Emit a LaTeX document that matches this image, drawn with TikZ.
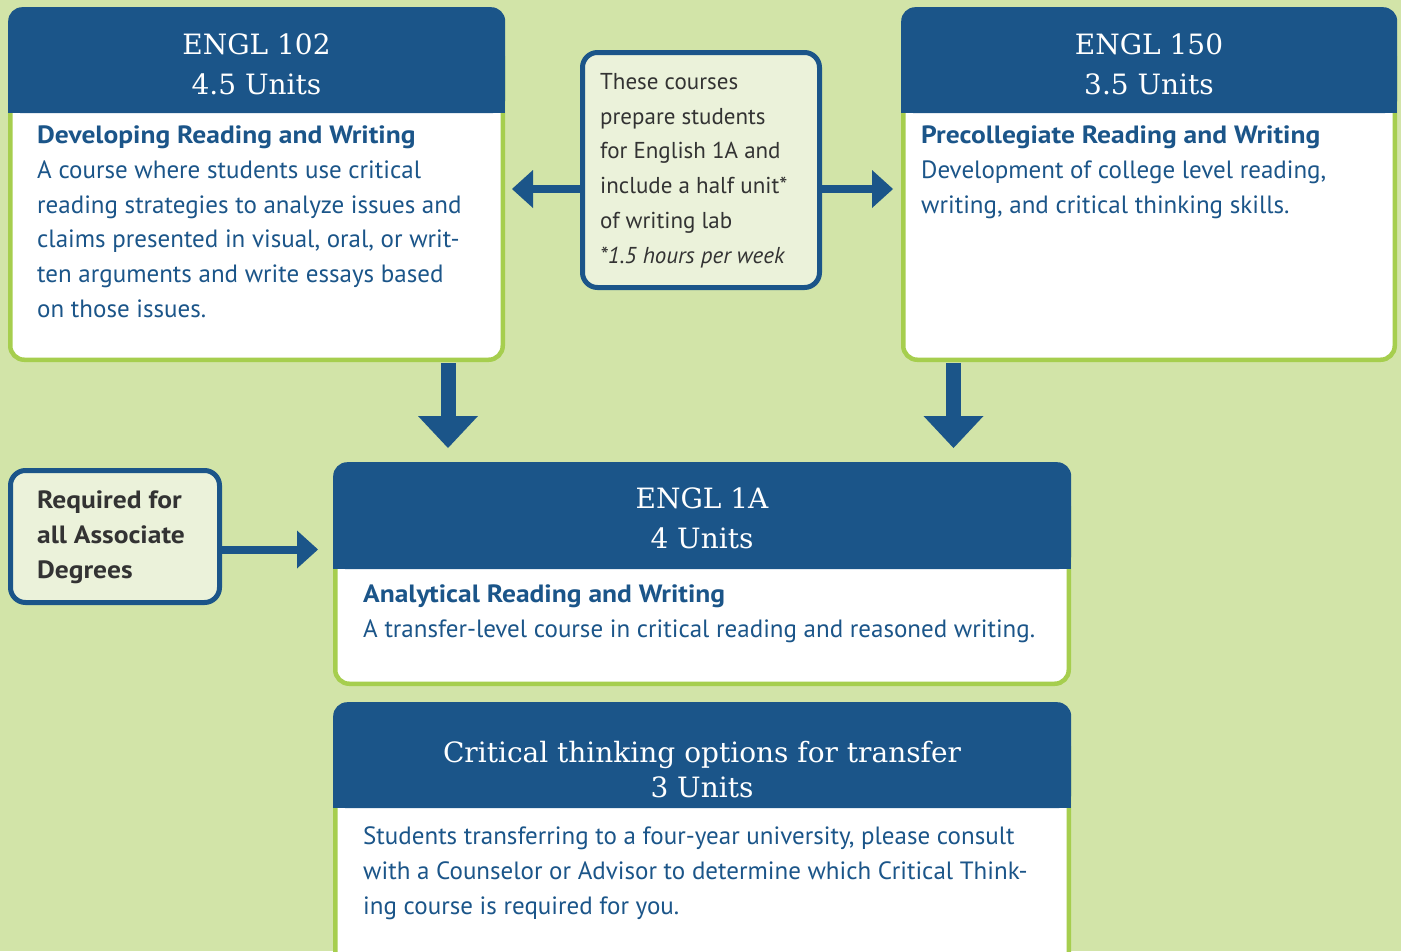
\documentclass[tikz,border=0pt]{standalone}
\usepackage{fontspec}
\setmainfont{PT Sans}[BoldFeatures={FakeStretch=1.1}]
\newfontfamily\slabfont{DejaVu Serif}
\usetikzlibrary{arrows.meta}

\definecolor{bggreen}{RGB}{210,228,168}
\definecolor{boxgreen}{RGB}{166,206,78}
\definecolor{hdrblue}{RGB}{27,85,137}
\definecolor{notefill}{RGB}{235,242,218}
\definecolor{notetext}{RGB}{51,51,51}

\tikzset{
  bodybox/.style={draw=boxgreen, line width=4.5pt, fill=white, rounded corners=14pt, inner sep=0pt, anchor=north west},
  hdrbox/.style={fill=hdrblue, rounded corners=14pt, inner sep=0pt, anchor=north west},
  hdrtitle/.style={text=white, font=\slabfont\fontsize{28}{40}\selectfont, align=center, inner sep=0pt},
  bodytext/.style={text=hdrblue, font=\fontsize{25}{34.8}\selectfont, align=left, anchor=north west, inner sep=0pt},
  notebox/.style={draw=hdrblue, line width=5pt, fill=notefill, rounded corners=15pt, inner sep=0pt, anchor=north west},
  notetxt/.style={text=notetext, font=\fontsize{23}{34.8}\selectfont, align=left, anchor=north west, inner sep=0pt},
  bigarrow/.style={draw=hdrblue, line width=15pt, -{Triangle[width=60pt,length=32pt,line width=0pt]}},
  thinarrow/.style={draw=hdrblue, line width=8pt, -{Triangle[width=38pt,length=21pt,line width=0pt]}}
}

\begin{document}
\begin{tikzpicture}[x=1pt,y=-1pt]
\fill[bggreen] (0,0) rectangle (1401,951);
\useasboundingbox (0,0) rectangle (1401,951);
\clip (0,0) rectangle (1401,951);

% ENGL 102
\node[bodybox, minimum width=492.5pt, minimum height=317.5pt] (b102) at (8,40) {};
\node[hdrbox, minimum width=497pt, minimum height=106pt] (h102) at (8,7) {};
\fill[hdrblue] ([yshift=20pt]h102.south west) rectangle (h102.south east);
\node[hdrtitle] (ttl102) at (256.5,64) {ENGL 102\\4.5 Units};
\node[bodytext] (t102) at (37,125.5) {\textbf{Developing Reading and Writing}\\A course where students use critical\\reading strategies to analyze issues and\\claims presented in visual, oral, or writ-\\ten arguments and write essays based\\on those issues.};

% ENGL 150
\node[bodybox, minimum width=491.5pt, minimum height=317.5pt] (b150) at (901,40) {};
\node[hdrbox, minimum width=496pt, minimum height=106pt] (h150) at (901,7) {};
\fill[hdrblue] ([yshift=20pt]h150.south west) rectangle (h150.south east);
\node[hdrtitle] (ttl150) at (1149,64) {ENGL 150\\3.5 Units};
\node[bodytext] (t150) at (921,125.5) {\textbf{Precollegiate Reading and Writing}\\Development of college level reading,\\writing, and critical thinking skills.};

% note between the two
\node[notebox, minimum width=237pt, minimum height=235pt] (note) at (580,50) {};
\node[notetxt] (tnote) at (600,73) {These courses\\prepare students\\for English 1A and\\include a half unit*\\of writing lab\\\textit{*1.5 hours per week}};

% ENGL 1A
\node[bodybox, minimum width=733.5pt, minimum height=191.5pt] (b1a) at (333,490) {};
\node[hdrbox, minimum width=738pt, minimum height=107pt] (h1a) at (333,462) {};
\fill[hdrblue] ([yshift=20pt]h1a.south west) rectangle (h1a.south east);
\node[hdrtitle] (ttl1a) at (702,518) {ENGL 1A\\4 Units};
\node[bodytext] (t1a) at (363,584.5) {\textbf{Analytical Reading and Writing}\\A transfer-level course in critical reading and reasoned writing.};

% required box
\node[notebox, minimum width=209pt, minimum height=132pt] (req) at (8,468) {};
\node[notetxt, font=\fontsize{25}{34.8}\selectfont\bfseries] (treq) at (37,490.5) {Required for\\all Associate\\Degrees};

% critical thinking
\node[bodybox, minimum width=733.5pt, minimum height=245.5pt] (bcr) at (333,730) {};
\node[hdrbox, minimum width=738pt, minimum height=106pt] (hcr) at (333,702) {};
\fill[hdrblue] ([yshift=20pt]hcr.south west) rectangle (hcr.south east);
\node[hdrtitle, font=\slabfont\fontsize{28}{35}\selectfont] (ttlcr) at (702,769.5) {Critical thinking options for transfer\\3 Units};
\node[bodytext] (tcr) at (363,826.5) {Students transferring to a four-year university, please consult\\with a Counselor or Advisor to determine which Critical Think-\\ing course is required for you.};

% arrows
\coordinate (dn1) at (448,0);
\coordinate (dn2) at (953.5,0);
\draw[bigarrow, shorten <=1pt, shorten >=14pt] (b102.south -| dn1) -- (h1a.north -| dn1);
\draw[bigarrow, shorten <=1pt, shorten >=14pt] (b150.south -| dn2) -- (h1a.north -| dn2);
\draw[thinarrow, shorten >=7pt] ([yshift=-19pt]note.west) -- ([yshift=-19pt]note.west -| b102.east);
\draw[thinarrow, shorten >=8pt] ([yshift=-19pt]note.east) -- ([yshift=-19pt]note.east -| b150.west);
\draw[thinarrow, shorten >=15pt] ([yshift=-13pt]req.east) -- ([yshift=-13pt]req.east -| b1a.west);
\end{tikzpicture}
\end{document}
